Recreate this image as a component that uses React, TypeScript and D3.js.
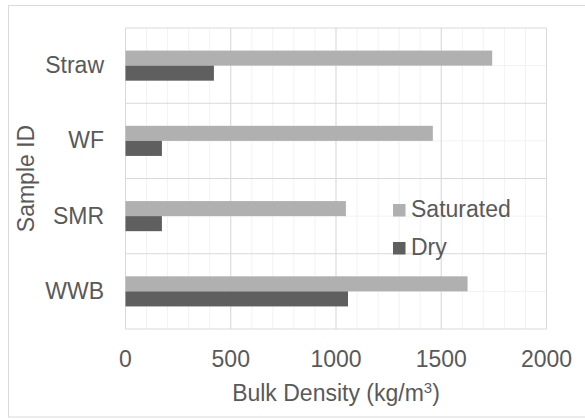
import * as d3 from "d3";

const categories = ["Straw", "WF", "SMR", "WWB"];
const saturated = [1742, 1460, 1047, 1625];
const dry = [420, 173, 173, 1057];
const xTicks = [0, 500, 1000, 1500, 2000];
const minorTicks = d3.range(0, 2001, 100);
const seriesNames = ["Saturated", "Dry"];
const seriesColors = ["#b0b0b0", "#5f5f5f"];

const width = 585;
const height = 419;
const margin = { top: 28, right: 38.5, bottom: 90, left: 125.5 };
const textColor = "#595959";
const font = "'Liberation Sans', Arial, sans-serif";

export default function App() {
  const x = d3
    .scaleLinear()
    .domain([0, 2000])
    .range([margin.left, width - margin.right]);

  const y = d3
    .scaleBand()
    .domain(categories)
    .range([margin.top, height - margin.bottom + 0]);

  const band = y.bandwidth();
  const barH = band / 5;

  return (
    <svg
      width={width}
      height={height}
      style={{ position: "absolute", left: 0, top: 0, fontFamily: font }}
    >
      <rect x={0} y={0} width={width} height={height} fill="#fff" />
      <rect x={8.5} y={5.5} width={width} height={411.5} fill="none" stroke="#d9d9d9" />

      {/* minor gridlines */}
      {minorTicks.map((t) => (
        <line key={"mv" + t} x1={x(t)} x2={x(t)} y1={y.range()[0]} y2={y.range()[1]} stroke="#f2f2f2" />
      ))}
      {categories.map((c) => (
        <line
          key={"mh" + c}
          x1={x(0)}
          x2={x(2000)}
          y1={y(c)! + band / 2}
          y2={y(c)! + band / 2}
          stroke="#f2f2f2"
        />
      ))}

      {/* major gridlines */}
      {xTicks.map((t) => (
        <line key={"v" + t} x1={x(t)} x2={x(t)} y1={y.range()[0]} y2={y.range()[1]} stroke="#d9d9d9" />
      ))}
      {categories.map((c) => (
        <line key={"h" + c} x1={x(0)} x2={x(2000)} y1={y(c)!} y2={y(c)!} stroke="#d9d9d9" />
      ))}
      <line x1={x(0)} x2={x(2000)} y1={y.range()[1]} y2={y.range()[1]} stroke="#d9d9d9" />

      {/* bars */}
      {categories.map((c, i) => (
        <g key={"b" + c}>
          <rect
            x={x(0)}
            y={y(c)! + band / 2 - barH}
            width={x(saturated[i]) - x(0)}
            height={barH}
            fill={seriesColors[0]}
          />
          <rect
            x={x(0)}
            y={y(c)! + band / 2}
            width={x(dry[i]) - x(0)}
            height={barH}
            fill={seriesColors[1]}
          />
        </g>
      ))}

      {/* category labels */}
      {categories.map((c) => (
        <text
          key={"c" + c}
          x={104}
          y={y(c)! + band / 2 + 7.5}
          textAnchor="end"
          fontSize={23}
          fill={textColor}
        >
          {c}
        </text>
      ))}

      {/* x tick labels */}
      {xTicks.map((t) => (
        <text key={"t" + t} x={x(t)} y={367} textAnchor="middle" fontSize={23} fill={textColor}>
          {t}
        </text>
      ))}

      {/* axis titles */}
      <text x={(x(0) + x(2000)) / 2} y={401} textAnchor="middle" fontSize={23} fill={textColor}>
        Bulk Density (kg/m
        <tspan fontSize={15} dy={-8}>3</tspan>
        <tspan dy={8}>)</tspan>
      </text>
      <text
        transform={`translate(34,${(y.range()[0] + y.range()[1]) / 2}) rotate(-90)`}
        textAnchor="middle"
        fontSize={23}
        fill={textColor}
      >
        Sample ID
      </text>

      {/* legend */}
      {seriesNames.map((s, i) => (
        <g key={"l" + s} transform={`translate(393,${204 + i * 38})`}>
          <rect x={0} y={0} width={12.5} height={12.5} fill={seriesColors[i]} />
          <text x={18} y={13} fontSize={23} fill={textColor}>
            {s}
          </text>
        </g>
      ))}
    </svg>
  );
}
